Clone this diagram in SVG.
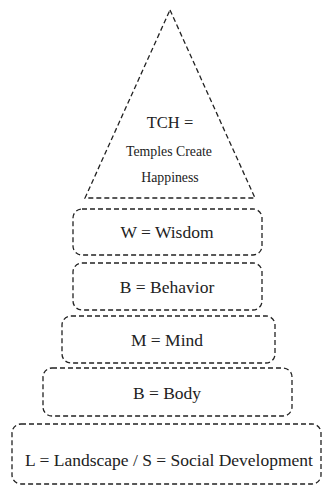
<svg xmlns="http://www.w3.org/2000/svg" width="322" height="488" viewBox="0 0 322 488">
<style>
.s{fill:none;stroke:#222;stroke-width:1.3;stroke-dasharray:5 3}
.t{font-family:"Liberation Serif",serif;fill:#222;text-anchor:middle}
.b{font-size:17.5px}
.h{font-size:16.5px}
.sm{font-size:13.8px}
</style>
<rect width="322" height="488" fill="#fff"/>
<g id="tch">
<polygon class="s" points="170,10 255,198 85,198"/>
<text class="t h" x="170" y="128">TCH =</text>
<text class="t sm" x="169" y="156">Temples Create</text>
<text class="t sm" x="170" y="182">Happiness</text>
</g>
<g id="wisdom">
<rect class="s" x="73" y="209" width="189" height="46" rx="9"/>
<text class="t b" x="167" y="238">W = Wisdom</text>
</g>
<g id="behavior">
<rect class="s" x="73" y="263" width="189" height="47" rx="9"/>
<text class="t b" x="167" y="293">B = Behavior</text>
</g>
<g id="mind">
<rect class="s" x="62" y="316" width="213" height="47" rx="9"/>
<text class="t b" x="167" y="346">M = Mind</text>
</g>
<g id="body">
<rect class="s" x="43" y="368" width="249" height="48" rx="9"/>
<text class="t b" x="167" y="399">B = Body</text>
</g>
<g id="landscape">
<rect class="s" x="12" y="424" width="309" height="60" rx="9"/>
<text class="t b" x="169" y="466">L = Landscape / S = Social Development</text>
</g>
<g id="connectors"></g>
</svg>
